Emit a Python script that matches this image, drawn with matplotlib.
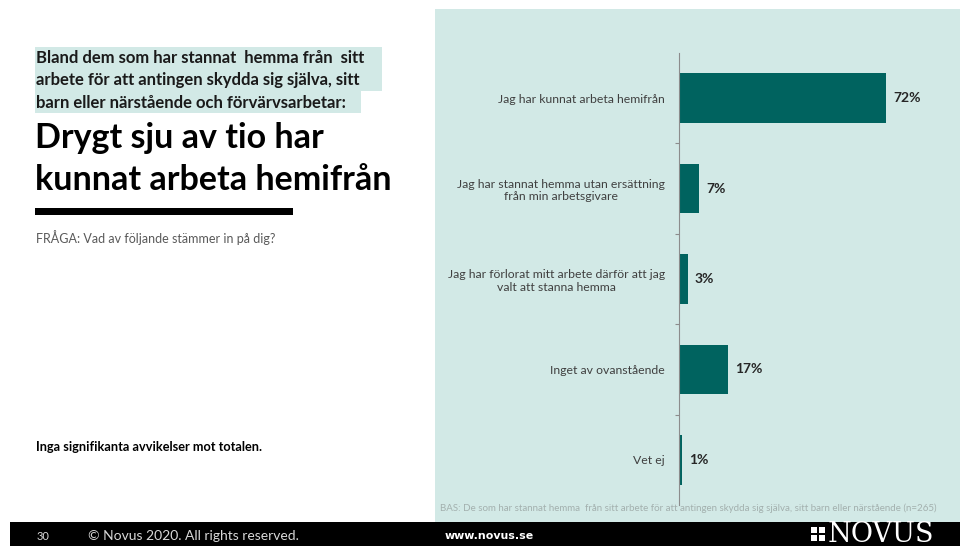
import matplotlib
matplotlib.use("Agg")
import matplotlib.pyplot as plt
from matplotlib.patches import Rectangle

# Data
categories = [
    "Jag har kunnat arbeta hemifrån",
    "Jag har stannat hemma utan ersättning\nfrån min arbetsgivare",
    "Jag har förlorat mitt arbete därför att jag\nvalt att stanna hemma",
    "Inget av ovanstående",
    "Vet ej",
]
values = [72, 7, 3, 17, 1]
value_labels = ["72%", "7%", "3%", "17%", "1%"]

W, H = 960, 546
PANEL = "#d2e9e6"
BAR = "#00635f"

plt.rcParams['font.family'] = ['Lato', 'DejaVu Sans']

fig = plt.figure(figsize=(W / 100, H / 100), dpi=100)
fig.patch.set_facecolor("white")


def fx(x):
    return x / W


def fy(y):
    return 1 - y / H


def rect(x0, y0, x1, y1, color, z=-1):
    fig.patches.append(Rectangle((fx(x0), fy(y1)), fx(x1 - x0), (y1 - y0) / H,
                                 transform=fig.transFigure, color=color, zorder=z, lw=0))


# background panel and footer
rect(435, 9, 960, 522, PANEL)
rect(10, 522, 960, 546, "black")

# highlighted subtitle
rect(35, 47, 382, 91, PANEL)
rect(35, 91, 361, 113, PANEL)
sub_lines = ["Bland dem som har stannat  hemma från  sitt",
             "arbete för att antingen skydda sig själva, sitt",
             "barn eller närstående och förvärvsarbetar:"]
for i, line in enumerate(sub_lines):
    fig.text(fx(36), fy(58 + i * 22.5), line, fontsize=12, fontweight="bold",
             color="#1a1a1a", va="center", ha="left")

fig.text(fx(35), fy(138), "Drygt sju av tio har", fontsize=24.5, fontweight="bold",
         color="black", va="center")
fig.text(fx(35), fy(180), "kunnat arbeta hemifrån", fontsize=24.5, fontweight="bold",
         color="black", va="center")
rect(35, 208, 293, 215, "black")
fig.text(fx(36), fy(238), "FRÅGA: Vad av följande stämmer in på dig?", fontsize=9,
         color="#595959", va="center")
fig.text(fx(36), fy(447), "Inga signifikanta avvikelser mot totalen.", fontsize=9.2,
         fontweight="bold", color="black", va="center")

# chart
ax_left, ax_top, ax_bottom = 679, 53, 505
ax = fig.add_axes([fx(ax_left), fy(ax_bottom), fx(W - ax_left), (ax_bottom - ax_top) / H])
ax.set_facecolor("none")
px_per_pct = 2.88
ax.set_xlim(0, (W - ax_left) / px_per_pct)
ax.set_ylim(len(categories) - 0.5, -0.5)
ypos = list(range(len(categories)))
ax.barh(ypos, values, height=0.55, color=BAR)
for y, v, lab in zip(ypos, values, value_labels):
    ax.text(v + 2.5, y, lab, fontsize=10, fontweight="bold", color="#262626",
            va="center", ha="left")
for s in ["top", "right", "bottom"]:
    ax.spines[s].set_visible(False)
ax.spines["left"].set_color("#8c8c8c")
ax.spines["left"].set_linewidth(0.8)
ax.set_xticks([])
ax.set_yticks(ypos)
ax.set_yticklabels(categories, fontsize=8.8, color="#404040")
for lbl in ax.get_yticklabels():
    lbl.set_multialignment("center")
ax.tick_params(axis="y", which="major", length=0, pad=10)
ax.set_yticks([y + 0.5 for y in ypos[:-1]], minor=True)
ax.tick_params(axis="y", which="minor", length=3, color="#8c8c8c", width=0.8)

fig.text(fx(440), fy(508),
         "BAS: De som har stannat hemma  från sitt arbete för att antingen skydda sig själva, sitt barn eller närstående (n=265)",
         fontsize=7, color="#a3b0ae", va="center")

# footer
fig.text(fx(37), fy(536), "30", fontsize=8, color="#d9d9d9", va="center")
fig.text(fx(88), fy(536), "© Novus 2020. All rights reserved.", fontsize=10,
         color="#d9d9d9", va="center")
fig.text(fx(445), fy(536), "www.novus.se", fontsize=7.9, fontweight="bold",
         color="white", va="center", family="DejaVu Sans")
for cx in (811, 819):
    for cy in (527, 535):
        rect(cx, cy, cx + 6, cy + 6, "white", z=2)
fig.text(fx(828), fy(534), "NOVUS", fontsize=19.5, color="white", va="center",
         family="DejaVu Serif")

fig.savefig("out.png", dpi=100)
